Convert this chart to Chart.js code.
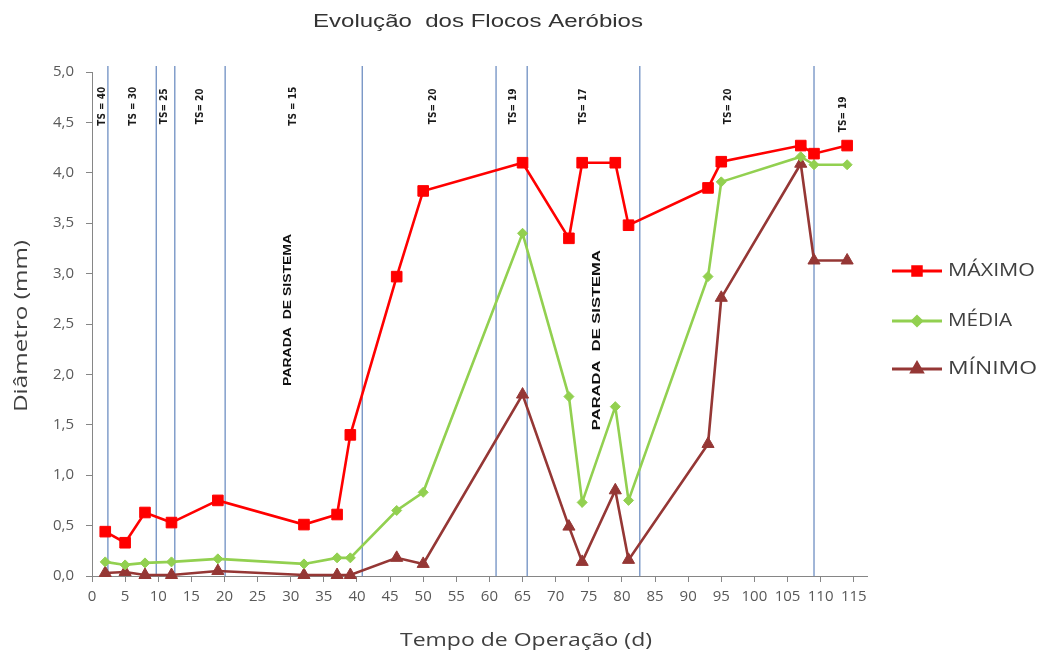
<!DOCTYPE html>
<html><head><meta charset="utf-8">
<script src="https://cdn.jsdelivr.net/npm/chart.js@4/dist/chart.umd.min.js"></script>
<style>html,body{margin:0;padding:0;background:#fff}canvas{display:block}</style>
</head><body>
<canvas id="c" width="1041" height="655"></canvas>
<script>
// ---------- data ----------
const chartTitle = 'Evolução  dos Flocos Aeróbios';
const xTitle = 'Tempo de Operação (d)';
const yTitle = 'Diâmetro (mm)';
const seriesNames = ['MÁXIMO', 'MÉDIA', 'MÍNIMO'];
const days   = [2, 5, 8, 12, 19, 32, 37, 39, 46, 50, 65, 72, 74, 79, 81, 93, 95, 107, 109, 114];
const maximo = [0.44, 0.33, 0.63, 0.53, 0.75, 0.51, 0.61, 1.40, 2.97, 3.82, 4.10, 3.35, 4.10, 4.10, 3.48, 3.85, 4.11, 4.27, 4.19, 4.27];
const media  = [0.14, 0.11, 0.13, 0.14, 0.17, 0.12, 0.18, 0.18, 0.65, 0.83, 3.40, 1.78, 0.73, 1.68, 0.75, 2.97, 3.91, 4.16, 4.08, 4.08];
const minimo = [0.03, 0.04, 0.01, 0.01, 0.05, 0.01, 0.01, 0.01, 0.18, 0.12, 1.80, 0.49, 0.14, 0.85, 0.16, 1.31, 2.76, 4.09, 3.13, 3.13];
const xTickValues = [0,5,10,15,20,25,30,35,40,45,50,55,60,65,70,75,80,85,90,95,100,105,110,115];
const yTickValues = [0,0.5,1,1.5,2,2.5,3,3.5,4,4.5,5];
const separatorDays = [2.4, 9.7, 12.5, 20.1, 40.8, 61.0, 65.7, 82.7, 109.0];
const tsLabels = ['TS = 40', 'TS = 30', 'TS= 25', 'TS= 20', 'TS = 15', 'TS= 20', 'TS= 19', 'TS= 17', 'TS= 20', 'TS= 19'];
const tsLabelDays = [1.5, 6.2, 11.0, 16.3, 30.4, 51.5, 63.6, 74.2, 96.1, 113.5];
const stopLabel = 'PARADA  DE SISTEMA';
const stopDays = [29.6, 76.3];
const stopLevels = [2.64, 2.34];

// ---------- helpers ----------
function fitText(ctx, text, x, y, w, font, color, rot, align) {
  ctx.save();
  ctx.font = font; ctx.fillStyle = color;
  ctx.textAlign = align || 'center'; ctx.textBaseline = 'middle';
  ctx.translate(x, y);
  if (rot) ctx.rotate(rot);
  const m = ctx.measureText(text).width;
  ctx.scale(w / m, 1);
  ctx.fillText(text, 0, 0);
  ctx.restore();
}

const overlay = {
  id: 'overlay',
  beforeDatasetsDraw(chart) {
    const { ctx, chartArea: a, scales: { x, y } } = chart;
    ctx.save();
    ctx.strokeStyle = '#6f8fc2';
    ctx.lineWidth = 1.3;
    separatorDays.forEach(d => {
      const px = x.getPixelForValue(d);
      ctx.beginPath(); ctx.moveTo(px, a.top - 6); ctx.lineTo(px, a.bottom); ctx.stroke();
    });
    ctx.fillStyle = '#1a1a1a';
    ctx.font = 'bold 10px "Liberation Sans Narrow", "DejaVu Sans Condensed", sans-serif';
    ctx.textAlign = 'center'; ctx.textBaseline = 'middle';
    tsLabels.forEach((t, i) => {
      ctx.save();
      ctx.translate(x.getPixelForValue(tsLabelDays[i]), y.getPixelForValue(i === tsLabels.length - 1 ? 4.58 : 4.66));
      ctx.rotate(-Math.PI / 2);
      ctx.fillText(t, 0, 0);
      ctx.restore();
    });
    const stopLens = [152, 180];
    stopDays.forEach((d, i) => {
      fitText(ctx, stopLabel, x.getPixelForValue(d), y.getPixelForValue(stopLevels[i]), stopLens[i],
        'bold 11px "Liberation Sans", Arial, sans-serif', '#111', -Math.PI / 2);
    });
    ctx.restore();
  },
  afterDraw(chart) {
    const { ctx } = chart;
    fitText(ctx, chartTitle, 478, 22, 330, '19px "Liberation Sans", Arial, sans-serif', '#333');
    fitText(ctx, xTitle, 526, 641, 252, '18px "Open Sans", sans-serif', '#404040');
    fitText(ctx, yTitle, 22, 326, 172, '18px "Open Sans", sans-serif', '#404040', -Math.PI / 2);
    const ys = [271, 321, 369];
    const widths = [87, 64, 89];
    const radii = [6, 4.5, 6];
    chart.data.datasets.forEach((ds, i) => {
      ctx.save();
      ctx.strokeStyle = ds.borderColor; ctx.lineWidth = 3;
      ctx.beginPath(); ctx.moveTo(892, ys[i]); ctx.lineTo(942, ys[i]); ctx.stroke();
      ctx.fillStyle = ds.pointBackgroundColor; ctx.strokeStyle = ds.pointBorderColor;
      Chart.helpers.drawPoint(ctx, { pointStyle: ds.pointStyle, radius: radii[i], rotation: 0, borderWidth: 1 }, 917, ys[i]);
      ctx.restore();
      fitText(ctx, ds.label, 948, ys[i], widths[i], '18px "Open Sans", sans-serif', '#404040', 0, 'left');
    });
  }
};

const mk = (label, data, color, style, radius) => ({
  label, data: days.map((d, i) => ({ x: d, y: data[i] })),
  borderColor: color, backgroundColor: color,
  pointBackgroundColor: color, pointBorderColor: color,
  pointStyle: style, pointRadius: radius, pointBorderWidth: 1,
  borderWidth: 2.6, tension: 0, clip: false
});

new Chart(document.getElementById('c'), {
  type: 'line',
  data: {
    datasets: [
      mk(seriesNames[0], maximo, '#ff0000', 'rect', 7.5),
      mk(seriesNames[1], media, '#92d050', 'rectRot', 5),
      mk(seriesNames[2], minimo, '#953735', 'triangle', 7)
    ]
  },
  options: {
    responsive: false, animation: false, devicePixelRatio: 1,
    layout: { padding: { left: 0, top: 72, right: 174, bottom: 0 } },
    plugins: { legend: { display: false }, title: { display: false }, tooltip: { enabled: false } },
    scales: {
      x: {
        type: 'linear', min: 0, max: 117,
        afterBuildTicks: s => { s.ticks = xTickValues.map(v => ({ value: v })); },
        afterFit: s => { s.height = 79; },
        grid: { drawOnChartArea: false, drawTicks: true, tickLength: 6, color: '#868686' },
        border: { display: true, color: '#868686', width: 1 },
        ticks: { autoSkip: false, maxRotation: 0, padding: 6, color: '#595959',
                 font: { family: 'Open Sans', size: 15 }, callback: v => String(v) }
      },
      y: {
        type: 'linear', min: 0, max: 5,
        afterBuildTicks: s => { s.ticks = yTickValues.map(v => ({ value: v })); },
        afterFit: s => { s.width = 92; },
        grid: { drawOnChartArea: false, drawTicks: true, tickLength: 6, color: '#868686' },
        border: { display: true, color: '#868686', width: 1 },
        ticks: { padding: 12, color: '#595959', font: { family: 'Open Sans', size: 15 },
                 callback: v => v.toFixed(1).replace('.', ',') }
      }
    }
  },
  plugins: [overlay]
});
</script>
</body></html>
